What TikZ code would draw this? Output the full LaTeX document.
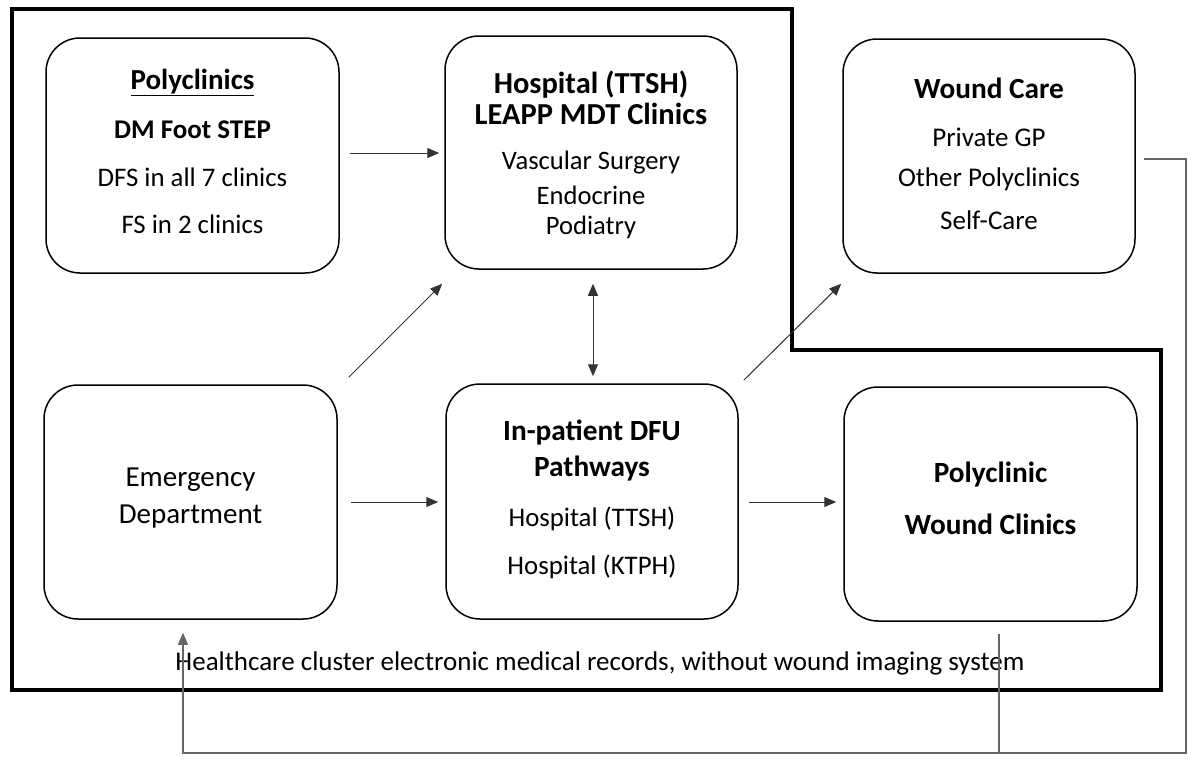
\documentclass[tikz,border=0pt]{standalone}
\usepackage{fontspec}
\setmainfont{Carlito}
\usetikzlibrary{arrows.meta,calc}

% heading and body sizes used inside the boxes
\newcommand\ttlfont{\fontsize{29.3}{34}\selectfont\bfseries}
\newcommand\bigttlfont{\fontsize{30.5}{34}\selectfont\bfseries}

\begin{document}
\begin{tikzpicture}[x=1pt,y=-1pt,
  box/.style 2 args={draw=black, line width=1.5pt, rounded corners=34pt,
    minimum width=#1, minimum height=#2, inner sep=0pt},
  boxtext/.style={align=center, inner sep=0pt, font=\fontsize{26.8}{34}\selectfont},
  conn/.style={draw=black!80, line width=1pt, -{Triangle[length=12pt,width=10pt]}},
  twoway/.style={draw=black!80, line width=1pt,
    {Triangle[length=12pt,width=10pt]}-{Triangle[length=12pt,width=10pt]}},
  fbline/.style={draw=black!60, line width=1.2pt},
  fbarrow/.style={fbline, -{Triangle[length=12pt,width=10pt]}}]

% page frame
\useasboundingbox (0,0) rectangle (1192,771);

% care-cluster boundary
\draw[line width=4pt, line join=miter]
  (12,9) -- (792,9) -- (792,350) -- (1161,350) -- (1161,690) -- (12,690) -- cycle;

% service boxes
\node[box={293pt}{235pt}] (pc)   at (192.5,155.5) {};
\node[box={292pt}{233pt}] (hosp) at (591,152.5)   {};
\node[box={292pt}{234pt}] (wc)   at (989,156)     {};
\node[box={293pt}{234pt}] (ed)   at (190.5,502)   {};
\node[box={292pt}{235pt}] (ip)   at (592,501.5)   {};
\node[box={293pt}{234pt}] (pw)   at (990.5,504)   {};

% box contents
\node[boxtext, yshift=4.5pt] (pcT) at (pc.center)
  {{\fontsize{29}{34}\selectfont\bfseries\underline{Polyclinics}}\\[15pt]
   {\fontsize{27}{34}\selectfont\bfseries DM Foot STEP}\\[14pt]
   DFS in all 7 clinics\\[13pt]
   FS in 2 clinics};
\node[boxtext, yshift=-2.5pt, font=\fontsize{26.6}{34}\selectfont] (hospT) at (hosp.center)
  {{\bigttlfont Hospital (TTSH)}\\[-3pt]
   {\bigttlfont LEAPP MDT Clinics}\\[11pt]
   Vascular Surgery\\[1pt]
   Endocrine\\[-4pt]
   Podiatry};
\node[boxtext, yshift=2pt, font=\fontsize{27}{34}\selectfont] (wcT) at (wc.center)
  {{\ttlfont Wound Care}\\[14pt]
   Private GP\\[6pt]
   Other Polyclinics\\[9pt]
   Self-Care};
\node[boxtext, yshift=3.5pt, font=\fontsize{29}{34}\selectfont] (edT) at (ed.center)
  {Emergency\\[3pt]
   Department};
\node[boxtext, yshift=1.75pt] (ipT) at (ip.center)
  {{\ttlfont In-patient DFU}\\[2pt]
   {\ttlfont Pathways}\\[16pt]
   Hospital (TTSH)\\[14pt]
   Hospital (KTPH)};
\node[boxtext, yshift=6pt] (pwT) at (pw.center)
  {{\ttlfont Polyclinic}\\[18pt]
   {\ttlfont Wound Clinics}};

% shared records caption
\node[anchor=base, inner sep=0pt, font=\fontsize{27}{32}\selectfont] (emr) at (600,670)
  {Healthcare cluster electronic medical records, without wound imaging system};

% patient flows
\draw[conn] ($(pc.east)+(10,-2.5)$) -- ($(hosp.west)+(-5,0.5)$);
\draw[conn] ($(ed.north east)+(11,-7)$) -- ($(hosp.south west)+(-2,14)$);
\draw[twoway] ($(hosp.south)+(2,14)$) -- ($(ip.north)+(1,-7)$);
\draw[conn] ($(ed.east)+(13,0)$) -- ($(ip.west)+(-7,0.5)$);
\draw[conn] ($(ip.east)+(10,0.5)$) -- ($(pw.west)+(-7,-2)$);
\draw[conn] ($(ip.north east)+(5,-3)$) -- ($(wc.south west)+(-1,10)$);

% record feedback loop
\coordinate (fbStart) at ($(wc.east)+(8,3)$);
\coordinate (fbCorner) at (1186,753);
\coordinate (edIn) at ($(ed.south)+(-7.5,13)$);
\coordinate (pwOut) at ($(pw.south)+(8.5,12)$);
\draw[fbarrow] (fbStart) -| (fbCorner) -| (edIn);
\draw[fbline] (pwOut) -- (pwOut |- fbCorner);
\end{tikzpicture}
\end{document}
